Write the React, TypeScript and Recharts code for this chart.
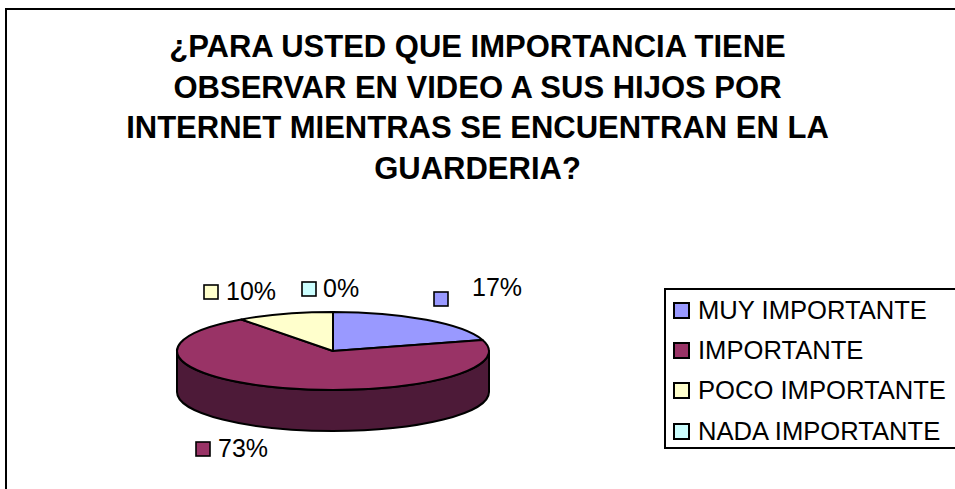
import { PieChart, Pie, Legend } from "recharts";

const categories = ["MUY IMPORTANTE", "IMPORTANTE", "POCO IMPORTANTE", "NADA IMPORTANTE"];
const values = [17, 73, 10, 0];
const colors = ["#9999FF", "#993366", "#FFFFCC", "#CCFFFF"];
const titleLines = [
  "¿PARA USTED QUE IMPORTANCIA TIENE",
  "OBSERVAR EN VIDEO A SUS HIJOS POR",
  "INTERNET MIENTRAS SE ENCUENTRAN EN LA",
  "GUARDERIA?",
];

const data = categories.map((name, i) => ({ name, value: values[i], fill: colors[i] }));

const FONT = "'Liberation Sans', Arial, sans-serif";
const SQUASH = 0.25; // top face of the disc
const DEPTH = 41;
const WALL = "#4D1A38";
// label box (key + text) relative to the pie centre
const labelSpots = [
  { keyX: 101, keyY: -59, textX: 139, textY: -55 },
  { keyX: -137, keyY: 91, textX: -115, textY: 106 },
  { keyX: -129, keyY: -66, textX: -107, textY: -51 },
  { keyX: -31, keyY: -69, textX: -10, textY: -54 },
];

const rad = (d: number) => (d * Math.PI) / 180;

// Excel's perspective stretches the far right of the disc
const skew = (a: number) => {
  const clock = 90 - a;
  return clock > 0 && clock < 180 ? clock + 14 * Math.sin(rad(clock)) : clock;
};

const pt = (cx: number, cy: number, rx: number, t: number) => ({
  x: cx + rx * Math.sin(rad(t)),
  y: cy - rx * SQUASH * Math.cos(rad(t)),
});

function Slice3D(props: any) {
  const { cx, cy, outerRadius: rx, startAngle, endAngle, fill } = props;
  const a = skew(startAngle);
  const b = skew(endAngle);
  if (b - a <= 0) return <g />;
  const ry = rx * SQUASH;
  const p = pt(cx, cy, rx, a);
  const q = pt(cx, cy, rx, b);
  const face = `M${cx},${cy}L${p.x},${p.y}A${rx},${ry} 0 ${b - a > 180 ? 1 : 0} 1 ${q.x},${q.y}Z`;

  // only the front half of the disc shows a wall
  const wa = Math.max(a, 90);
  const wb = Math.min(b, 270);
  let wall = "";
  if (wb > wa) {
    const u = pt(cx, cy, rx, wa);
    const v = pt(cx, cy, rx, wb);
    wall = `M${u.x},${u.y}A${rx},${ry} 0 0 1 ${v.x},${v.y}L${v.x},${v.y + DEPTH}A${rx},${ry} 0 0 0 ${u.x},${u.y + DEPTH}Z`;
  }
  return (
    <g>
      {wall && <path d={wall} fill={WALL} stroke="#000" strokeWidth={2} strokeLinejoin="round" />}
      <path d={face} fill={fill} stroke="#000" strokeWidth={2} strokeLinejoin="round" />
    </g>
  );
}

function SliceLabel(props: any) {
  const { cx, cy, index, value, fill } = props;
  const s = labelSpots[index];
  return (
    <g>
      <rect x={cx + s.keyX} y={cy + s.keyY} width={14} height={14} fill={fill} stroke="#000" strokeWidth={1.6} />
      <text x={cx + s.textX} y={cy + s.textY} fontSize={25} fontFamily={FONT} fill="#000" stroke="none" textAnchor="start">
        {value}%
      </text>
    </g>
  );
}

function LegendBox({ payload }: any) {
  return (
    <div style={{ height: 161, border: "2px solid #000", borderRight: "none", boxSizing: "border-box", background: "#fff" }}>
      {(payload || []).map((p: any) => (
        <div key={p.value} style={{ height: 40.4, display: "flex", alignItems: "center", fontFamily: FONT, fontSize: 25.6, color: "#000", whiteSpace: "nowrap" }}>
          <span style={{ width: 13, height: 13, marginLeft: 7, marginRight: 8, border: "2px solid #000", background: p.color, display: "inline-block" }} />
          {p.value}
        </div>
      ))}
    </div>
  );
}

export default function App() {
  return (
    <div style={{ position: "fixed", left: 0, top: 0, width: 955, height: 489, overflow: "hidden", background: "#fff" }}>
      <div style={{ position: "absolute", left: 5, top: 8, width: 1000, height: 600, border: "2px solid #000", boxSizing: "border-box" }} />
      <div style={{ position: "absolute", left: 0, top: 27, width: 955, textAlign: "center", fontFamily: FONT, fontWeight: 700, fontSize: 31, lineHeight: "40.7px", color: "#000" }}>
        {titleLines.map((l) => (
          <div key={l}>{l}</div>
        ))}
      </div>
      <div style={{ position: "absolute", left: 0, top: 0 }}>
        <PieChart width={955} height={489} margin={{ top: 0, right: 0, bottom: 0, left: 0 }}>
          <Pie data={data} dataKey="value" nameKey="name" cx={333} cy={351} outerRadius={156} startAngle={90} endAngle={-270} shape={Slice3D} label={SliceLabel} labelLine={false} isAnimationActive={false} />
          <Legend content={<LegendBox />} itemSorter={null} wrapperStyle={{ position: "absolute", left: 664, top: 288, width: 320, bottom: "auto", right: "auto" }} />
        </PieChart>
      </div>
    </div>
  );
}
